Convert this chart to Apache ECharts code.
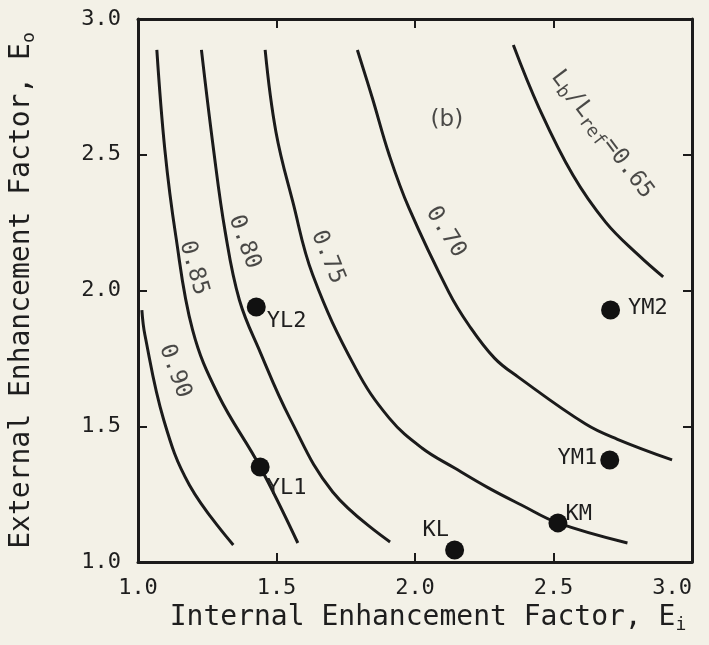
<!DOCTYPE html>
<html>
<head>
<meta charset="utf-8">
<script src="https://cdn.jsdelivr.net/npm/echarts@6/dist/echarts.min.js"></script>
<style>
html, body { margin: 0; padding: 0; background: #f3f1e7; }
#chart { width: 709px; height: 645px; }
</style>
</head>
<body>
<div id="chart"></div>
<script>
// axis ticks (both axes share them)
var ticks = [1.0, 1.5, 2.0, 2.5, 3.0];

// contours of Lb/Lref, points are [Ei, Eo]
var c090 = [[1.014,1.928],[1.025,1.836],[1.093,1.523],[1.186,1.283],[1.344,1.063]];
var c085 = [[1.068,2.886],[1.097,2.518],[1.136,2.204],[1.197,1.855],[1.290,1.615],[1.441,1.350],[1.577,1.070]];
var c080 = [[1.229,2.886],[1.272,2.525],[1.315,2.215],[1.366,1.965],[1.441,1.773],[1.548,1.530],[1.703,1.258],[1.910,1.074]];
var c075 = [[1.459,2.886],[1.498,2.584],[1.559,2.326],[1.631,2.057],[1.785,1.715],[1.907,1.530],[2.025,1.420],[2.143,1.346],[2.265,1.273],[2.384,1.210],[2.516,1.144],[2.767,1.070]];
var c070 = [[1.792,2.886],[1.846,2.709],[1.907,2.499],[1.978,2.304],[2.122,1.994],[2.194,1.873],[2.287,1.751],[2.373,1.681],[2.616,1.508],[2.731,1.452],[2.928,1.376]];
var c065 = [[2.355,2.904],[2.448,2.672],[2.570,2.425],[2.688,2.252],[2.806,2.131],[2.896,2.050]];

// test cases
var caseNames = ['YL2', 'YL1', 'KL', 'KM', 'YM1', 'YM2'];
var caseEi = [1.427, 1.441, 2.143, 2.516, 2.703, 2.706];
var caseEo = [1.939, 1.350, 1.044, 1.144, 1.376, 1.928];

var font = 'DejaVu Sans Mono';
var ink = '#1b1b1b';
var textInk = '#1e1e1e';

function curve(data) {
    return {
        type: 'line',
        data: data,
        smooth: 0.4,
        showSymbol: false,
        silent: true,
        lineStyle: { color: ink, width: 3 }
    };
}

// label placement for each case point
var caseLabel = {
    YL2: { position: 'right', distance: 1, offset: [0, 14] },
    YL1: { position: 'right', distance: -3, offset: [0, 21] },
    KL:  { position: 'left', distance: -4, offset: [0, -20] },
    KM:  { position: 'right', distance: -2, offset: [0, -9] },
    YM1: { position: 'left', distance: 3, offset: [0, -2] },
    YM2: { position: 'right', distance: 8, offset: [0, -2] }
};

var caseData = caseNames.map(function (n, i) {
    return { name: n, value: [caseEi[i], caseEo[i]], label: caseLabel[n] };
});

var sub = { fontFamily: font, fontSize: 18, color: textInk, padding: [14, 0, 0, 0] };

var curveLabels = [
    { name: '0.90', value: [1.133, 1.703], label: { rotate: -70 } },
    { name: '0.85', value: [1.201, 2.083], label: { rotate: -74 } },
    { name: '0.80', value: [1.384, 2.179], label: { rotate: -70 } },
    { name: '0.75', value: [1.685, 2.123], label: { rotate: -68 } },
    { name: '0.70', value: [2.111, 2.215], label: { rotate: -58 } },
    { name: 'L{s|b}/L{s|ref}=0.65', value: [2.676, 2.575], label: { rotate: -53 } },
    { name: '(b)', value: [2.115, 2.628], label: { rotate: 0, fontFamily: 'DejaVu Sans' } }
];

function axisBase(pos) {
    return {
        type: 'value',
        position: pos,
        min: ticks[0],
        max: ticks[ticks.length - 1],
        interval: ticks[1] - ticks[0],
        splitLine: { show: false },
        axisLine: { show: true, onZero: false, lineStyle: { color: ink, width: 3 } },
        axisTick: { show: true, inside: true, length: 9, lineStyle: { color: ink, width: 2 } }
    };
}

var xMain = axisBase('bottom');
xMain.axisLabel = { margin: 15, fontFamily: font, fontSize: 22, color: textInk, alignMaxLabel: 'right',
    formatter: function (v) { return v.toFixed(1); } };
xMain.name = 'Internal Enhancement Factor, E{s|i}';
xMain.nameLocation = 'middle';
xMain.nameGap = 40;
xMain.nameTextStyle = { fontFamily: font, fontSize: 28, color: textInk, padding: [0, 0, 0, 26], rich: { s: sub } };

var xTop = axisBase('top');
xTop.axisLabel = { show: false };

var yMain = axisBase('left');
yMain.axisLabel = { margin: 17, fontFamily: font, fontSize: 22, color: textInk,
    formatter: function (v) { return v.toFixed(1); } };
yMain.name = 'External Enhancement Factor, E{s|o}';
yMain.nameLocation = 'middle';
yMain.nameGap = 100;
yMain.nameTextStyle = { fontFamily: font, fontSize: 28, color: textInk, rich: { s: sub } };

var yRight = axisBase('right');
yRight.axisLabel = { show: false };

var option = {
    backgroundColor: '#f3f1e7',
    animation: false,
    grid: { left: 134, top: 19, right: 17, bottom: 83 },
    xAxis: [xMain, xTop],
    yAxis: [yMain, yRight],
    series: [
        curve(c090), curve(c085), curve(c080), curve(c075), curve(c070), curve(c065),
        {
            type: 'scatter',
            data: caseData,
            symbolSize: 19,
            itemStyle: { color: '#111', opacity: 1 },
            label: {
                show: true,
                formatter: '{b}',
                fontFamily: font,
                fontSize: 22,
                color: textInk
            },
            z: 5
        },
        {
            type: 'scatter',
            data: curveLabels,
            symbolSize: 0,
            silent: true,
            label: {
                show: true,
                position: 'inside',
                formatter: '{b}',
                fontFamily: font,
                fontSize: 23,
                color: textInk,
                rich: { s: { fontFamily: font, fontSize: 18, color: textInk, padding: [13, 0, 0, 0] } }
            },
            z: 6
        }
    ]
};

var chart = echarts.init(document.getElementById('chart'));
chart.setOption(option);
</script>
</body>
</html>
